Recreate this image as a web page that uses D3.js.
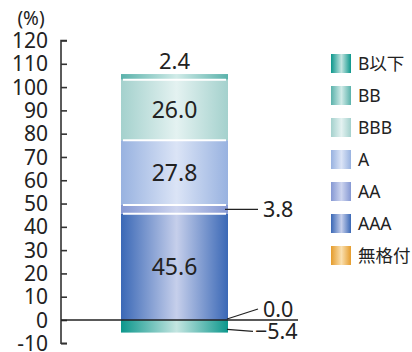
<!DOCTYPE html>
<html>
<head>
<meta charset="utf-8">
<script src="https://cdn.jsdelivr.net/npm/d3@7"></script>
<style>
  html, body { margin: 0; padding: 0; background: #fff; }
  svg { display: block; font-family: "Noto Sans", "Noto Sans CJK JP", sans-serif; }
</style>
</head>
<body>
<svg id="chart" width="412" height="352"></svg>
<script>
// Rating mix of the portfolio (%), one stacked column
const categories = ["B以下", "BB", "BBB", "A", "AA", "AAA", "無格付"];
const values     = [-5.4, 2.4, 26.0, 27.8, 3.8, 45.6, 0.0];
// stacking order, bottom to top
const stackOrder = ["無格付", "AAA", "AA", "A", "BBB", "BB", "B以下"];
const yTicks = [-10, 0, 10, 20, 30, 40, 50, 60, 70, 80, 90, 100, 110, 120];

// edge / centre colours of each rating's horizontal gradient
const edgeColors   = ["#0c978c", "#5ab2ab", "#a4d1cd", "#98b2e0", "#8598d3", "#3a68b6", "#e59c2c"];
const centerColors = ["#c4e5e1", "#d1ebe8", "#e4f2f1", "#dbe4f6", "#ced5ef", "#c6cfeb", "#fae0b0"];

const svg = d3.select("#chart");
const defs = svg.append("defs");

categories.forEach((c, i) => {
  const g = defs.append("linearGradient")
    .attr("id", "grad" + i)
    .attr("x1", "0%").attr("x2", "100%").attr("y1", "0%").attr("y2", "0%");
  g.append("stop").attr("offset", "0%").attr("stop-color", edgeColors[i]);
  g.append("stop").attr("offset", "52%").attr("stop-color", centerColors[i]);
  g.append("stop").attr("offset", "100%").attr("stop-color", edgeColors[i]);
});

const y = d3.scaleLinear().domain([-10, 120]).range([343.3, 40.5]);
const x = d3.scaleBand().domain(["total"]).range([121, 228]).padding(0);

const row = { key: "total" };
categories.forEach((c, i) => row[c] = values[i]);

const series = d3.stack()
  .keys(stackOrder)
  .order(d3.stackOrderNone)
  .offset(d3.stackOffsetDiverging)([row]);

const txt = "#222";

// bar segments
const segs = series.map(s => {
  const i = categories.indexOf(s.key);
  const d = s[0];
  return { key: s.key, i, v: values[i], y0: Math.min(d[0], d[1]), y1: Math.max(d[0], d[1]) };
});

svg.append("g").selectAll("rect")
  .data(segs.filter(d => d.v !== 0))
  .join("rect")
  .attr("x", x("total"))
  .attr("width", x.bandwidth())
  .attr("y", d => y(d.y1))
  .attr("height", d => y(d.y0) - y(d.y1))
  .attr("fill", d => "url(#grad" + d.i + ")");

// white separators between positive segments
const seps = segs.filter(d => d.v > 0 && d.y0 > 0);
svg.append("g").selectAll("line")
  .data(seps)
  .join("line")
  .attr("x1", x("total") + 2)
  .attr("x2", x("total") + x.bandwidth() - 2)
  .attr("y1", d => y(d.y0))
  .attr("y2", d => y(d.y0))
  .attr("stroke", "#fff")
  .attr("stroke-width", 2);

// y axis
const axis = d3.axisRight(y).tickValues(yTicks).tickSize(6).tickFormat("");
const ag = svg.append("g").attr("transform", "translate(61,0)").call(axis);
ag.select(".domain").attr("stroke", "#333").attr("stroke-width", 1.6).attr("d", `M6,${y(120)}H0V${y(-10)}H6`);
ag.selectAll(".tick line").attr("stroke", "#333").attr("stroke-width", 1.6);

svg.append("g").selectAll("text")
  .data(yTicks)
  .join("text")
  .attr("x", 48)
  .attr("y", d => y(d))
  .attr("dy", "0.36em")
  .attr("text-anchor", "end")
  .attr("font-size", 21)
  .attr("fill", txt)
  .text(d => d);

svg.append("text")
  .attr("x", 31).attr("y", 25)
  .attr("text-anchor", "middle")
  .attr("font-size", 19)
  .attr("fill", txt)
  .text("(%)");

// zero line
svg.append("line")
  .attr("x1", 61).attr("x2", 298)
  .attr("y1", y(0)).attr("y2", y(0))
  .attr("stroke", "#222").attr("stroke-width", 1.4);

// value labels
const right = x("total") + x.bandwidth();
const cx = x("total") + x.bandwidth() / 2;
const fmt = d3.format(".1f");

segs.forEach(d => {
  const mid = y((d.y0 + d.y1) / 2);
  if (d.v >= 10) {
    svg.append("text").attr("x", cx).attr("y", mid).attr("dy", "0.36em")
      .attr("text-anchor", "middle").attr("font-size", 23).attr("fill", txt).text(fmt(d.v));
  } else if (d.key === "BB") {
    svg.append("text").attr("x", cx).attr("y", y(d.y1) - 13).attr("dy", "0.36em")
      .attr("text-anchor", "middle").attr("font-size", 22).attr("fill", txt).text(fmt(d.v));
  } else {
    let sx, sy, ex, ey;
    if (d.v < 0) { sx = right - 1; sy = mid + 3; ex = right + 25; ey = mid + 5; }
    else if (d.v === 0) { sx = right - 1; sy = y(0) - 1; ex = right + 30; ey = y(0) - 11; }
    else { sx = right - 3; sy = mid; ex = right + 30; ey = mid; }
    svg.append("line").attr("x1", sx).attr("y1", sy).attr("x2", ex).attr("y2", ey)
      .attr("stroke", "#222").attr("stroke-width", 1.2);
    svg.append("text").attr("x", ex + (d.v < 0 ? 2 : 5)).attr("y", ey).attr("dy", "0.36em")
      .attr("font-size", 21.5).attr("fill", txt).text(fmt(d.v));
  }
});

// legend
const lg = svg.append("g").selectAll("g")
  .data(categories)
  .join("g")
  .attr("transform", (d, i) => `translate(331,${54 + i * 32})`);
lg.append("rect").attr("width", 20).attr("height", 19)
  .attr("fill", (d, i) => "url(#grad" + i + ")");
lg.append("text").attr("x", 27).attr("y", 10).attr("dy", "0.36em")
  .attr("font-size", 17.5).attr("fill", txt).text(d => d);
</script>
</body>
</html>
